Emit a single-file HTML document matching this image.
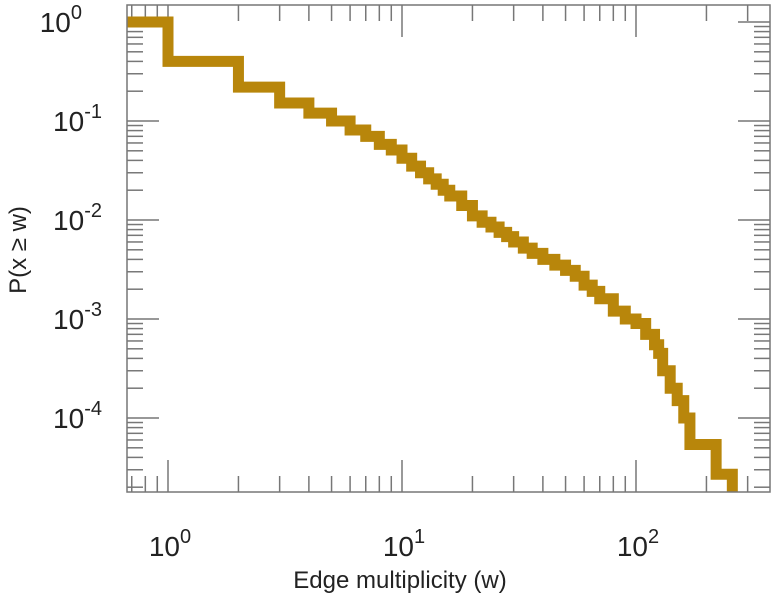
<!DOCTYPE html>
<html><head><meta charset="utf-8"><style>
body{margin:0;background:#fff}
svg text{font-family:"Liberation Sans",sans-serif;fill:#222}
</style></head><body>
<svg id="chart" width="771" height="600" xmlns="http://www.w3.org/2000/svg">
<g id="ticks"></g>
<path id="line" fill="none" stroke="#b8860b" stroke-width="11" stroke-linejoin="miter" stroke-linecap="butt"/>
<rect x="127" y="5" width="643" height="487" fill="none" stroke="#777" stroke-width="1.5"/>
<g id="labels"></g>
<text x="400" y="588" text-anchor="middle" font-size="24">Edge multiplicity (w)</text>
<text transform="translate(26,250) rotate(-90)" text-anchor="middle" font-size="24">P(x ≥ w)</text>
</svg>
<script>
const wValues=[1,2,3,4,5,6,7,8,9,10,11,12,13,14,15,16,18,20,22,24,26,28,30,33,36,40,45,50,55,60,65,70,80,90,100,110,120,125,130,140,150,160,170,220,258];
const pValues=[1,0.4,0.22,0.152,0.12,0.1,0.081,0.07,0.058,0.051,0.042,0.035,0.030,0.026,0.023,0.020,0.0175,0.014,0.011,0.0095,0.0085,0.0075,0.0068,0.006,0.0052,0.0046,0.0040,0.0035,0.0031,0.0027,0.0022,0.0019,0.0016,0.0012,0.001,0.0009,0.0007,0.00055,0.00045,0.0003,0.0002,0.00015,0.0001,0.000054,0.000027];
const xTickExps=[0,1,2];
const yTickExps=[0,-1,-2,-3,-4];
const L=127,R=770,T=5,B=492;
const X0=168,XD=234,Y0=22,YD=99;
const sx=w=>X0+Math.log10(w)*XD;
const sy=p=>Y0-Math.log10(p)*YD;
const NS="http://www.w3.org/2000/svg";
let d="M"+L+","+sy(pValues[0]);
for(let i=0;i<wValues.length;i++){
  const x=sx(wValues[i]);
  d+=" L"+x+","+sy(pValues[i]);
  const ny=i<wValues.length-1?sy(pValues[i+1]):B;
  d+=" L"+x+","+ny;
}
document.getElementById('line').setAttribute('d',d);
const tg=document.getElementById('ticks');
function ln(x1,y1,x2,y2){const l=document.createElementNS(NS,'line');
l.setAttribute('x1',x1);l.setAttribute('y1',y1);l.setAttribute('x2',x2);l.setAttribute('y2',y2);
l.setAttribute('stroke','#777');l.setAttribute('stroke-width','1.5');


tg.appendChild(l);}
for(let e=-1;e<=3;e++)for(let m=1;m<10;m++){const x=sx(m*Math.pow(10,e));if(x<L+1||x>R-1)continue;
 const len=m===1?32:16;ln(x,B,x,B-len);ln(x,T,x,T+len);}
for(let e=-5;e<=1;e++)for(let m=1;m<10;m++){const y=sy(m*Math.pow(10,e));if(y<T+1||y>B-1)continue;
 const len=m===1?32:16;ln(L,y,L+len,y);ln(R,y,R-len,y);}
const lg=document.getElementById('labels');
function lab(x,y,e,anchor){const t=document.createElementNS(NS,'text');
t.setAttribute('x',x);t.setAttribute('y',y);t.setAttribute('font-size','28');t.setAttribute('text-anchor',anchor);


t.innerHTML='10<tspan dy="-13" font-size="20">'+e+'</tspan>';lg.appendChild(t);}
xTickExps.forEach(e=>lab(sx(Math.pow(10,e))+2,556,e,'middle'));
yTickExps.forEach(e=>lab(e<0?102:82,sy(Math.pow(10,e))+10,e,'end'));
</script>
</body></html>
